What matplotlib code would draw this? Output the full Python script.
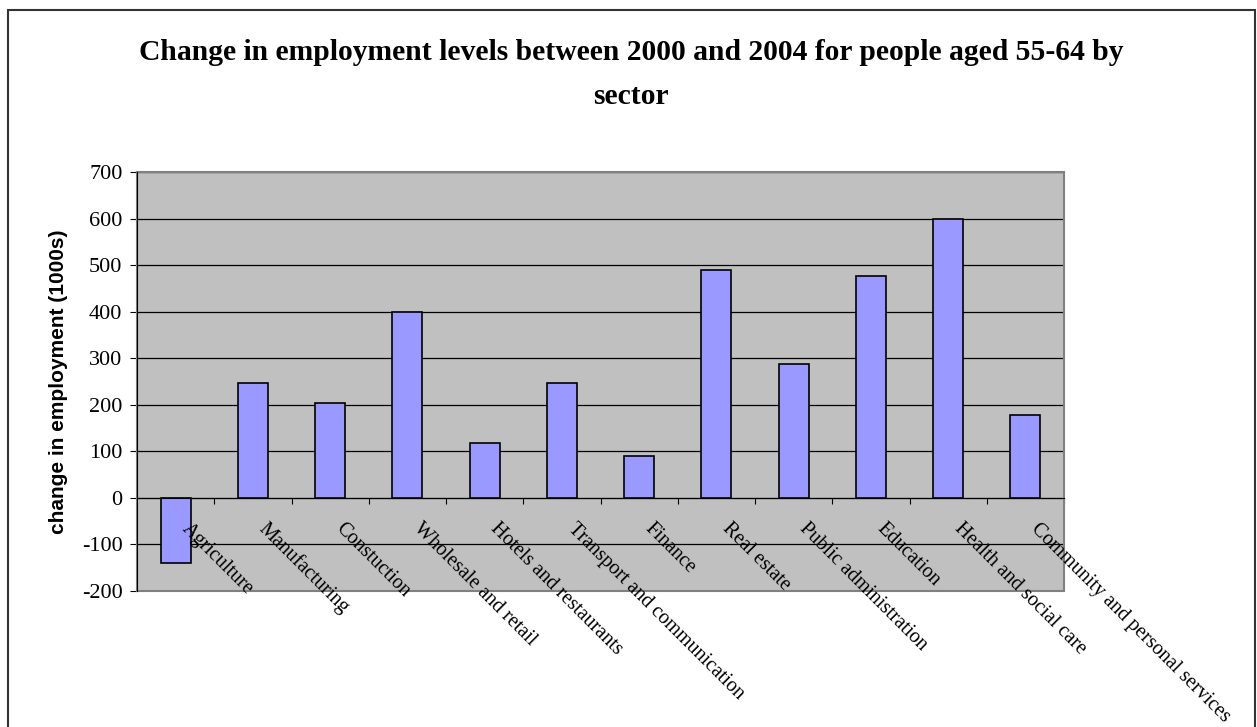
import matplotlib.pyplot as plt
from matplotlib.patches import Rectangle
import numpy as np

# Dane (tys. osob)
sectors = ["Agriculture", "Manufacturing", "Constuction", "Wholesale and retail",
           "Hotels and restaurants", "Transport and communication", "Finance",
           "Real estate", "Public administration", "Education",
           "Health and social care", "Community and personal services"]
change = [-140, 247, 203, 400, 118, 247, 89, 490, 288, 477, 598, 179]
yticks = [-200, -100, 0, 100, 200, 300, 400, 500, 600, 700]

serif = "Liberation Serif"

fig = plt.figure(figsize=(12.57, 7.27), dpi=100)
ax = fig.add_axes([137/1257, 1 - 591/727, (1064-137)/1257, (591-172)/727])
ax.set_facecolor("#C0C0C0")

x = np.arange(len(sectors))
ax.bar(x, change, width=0.39, color="#9999FF", edgecolor="black", linewidth=1.2, zorder=3)

ax.set_xlim(-0.5, len(sectors) - 0.5)
ax.set_ylim(-200, 700)
ax.set_yticks(yticks)
ax.set_yticklabels([str(v) for v in yticks], fontfamily=serif, fontsize=16)
ax.yaxis.grid(True, color="black", linewidth=0.9)
ax.set_axisbelow(True)

# os kategorii na wysokosci 0
ax.spines["bottom"].set_position(("data", 0))
ax.spines["bottom"].set_color("black")
ax.spines["bottom"].set_zorder(4)
ax.spines["left"].set_color("black")
ax.spines["top"].set_visible(False)
ax.spines["right"].set_visible(False)
ax.add_patch(Rectangle((0, 0), 1, 1, transform=ax.transAxes, fill=False,
                       edgecolor="#808080", linewidth=1.5, zorder=2, clip_on=False))

ax.set_xticks(np.arange(len(sectors)) + 0.5)
ax.set_xticklabels([])
ax.tick_params(axis="x", direction="out", length=4.5, color="black")
ax.tick_params(axis="y", direction="out", length=5, color="black", pad=5.5)

for i, name in enumerate(sectors):
    ax.annotate(name, xy=(i, 0), xytext=(11, -15.5), textcoords="offset points",
                rotation=-45, rotation_mode="anchor", ha="left", va="top",
                fontfamily=serif, fontsize=14.5, annotation_clip=False)

ax.set_ylabel("change in employment (1000s)", fontfamily="Liberation Sans",
              fontweight="bold", fontsize=15, labelpad=10)

fig.text(0.502, 1 - 52/727, "Change in employment levels between 2000 and 2004 for people aged 55-64 by",
         ha="center", va="center", fontfamily=serif, fontweight="bold", fontsize=21.3)
fig.text(0.502, 1 - 97/727, "sector", ha="center", va="center",
         fontfamily=serif, fontweight="bold", fontsize=21.3)

# ramka wykresu
fig.patches.append(Rectangle((8/1257, -0.01), (1255-8)/1257, 1 - 10/727 + 0.01,
                             transform=fig.transFigure, fill=False,
                             edgecolor="#333333", linewidth=1.5))

fig.savefig("out.png", dpi=100)
